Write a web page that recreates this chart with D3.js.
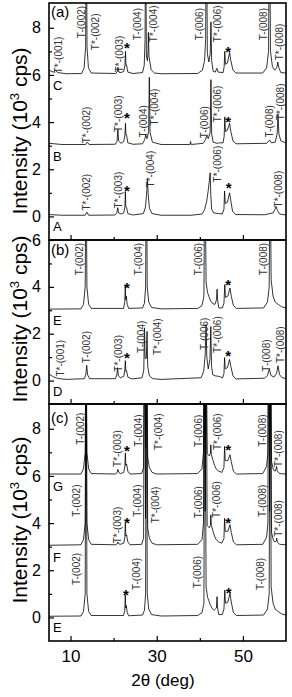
<!DOCTYPE html>
<html>
<head>
<meta charset="utf-8">
<script src="https://cdn.jsdelivr.net/npm/d3@7"></script>
<style>
body { margin: 0; background: #fff; }
svg text { font-family: "Liberation Sans", Arial, sans-serif; }
</style>
</head>
<body>
<div id="chart"></div>
<script>
// XRD patterns: [2theta (deg), intensity (10^3 cps)], offsets included
var curveA = [[5,0.08],[8,0.05],[13.4,0.05],[13.8,0.18],[14.2,0.05],[20.3,0.06],[20.75,0.15],[20.95,0.37],[21.15,0.15],[21.7,0.1],[22.35,0.15],[22.62,0.4],[22.72,1.05],[22.82,0.4],[23.0,0.38],[23.3,0.12],[24.5,0.06],[26.9,0.12],[27.4,0.4],[27.7,1.1],[27.85,1.6],[28.0,1.0],[28.3,0.35],[28.9,0.12],[31,0.05],[38,0.05],[40.5,0.1],[41.1,0.28],[41.6,0.65],[41.95,1.1],[42.2,1.5],[42.4,1.85],[42.55,0.9],[42.75,0.3],[43.2,0.15],[45.2,0.1],[45.6,0.3],[45.75,1.08],[45.9,0.55],[46.4,0.6],[46.9,1.0],[47.2,0.65],[47.6,0.22],[48.3,0.08],[55,0.07],[57.0,0.15],[57.45,0.3],[57.7,0.42],[58.0,0.25],[58.5,0.1],[60,0.06]];
var curveB = [[5,3.1],[8,3.05],[13.5,3.05],[13.9,3.15],[14.3,3.05],[20.4,3.06],[20.8,3.2],[20.98,3.7],[21.15,3.2],[21.7,3.1],[22.35,3.18],[22.62,3.45],[22.75,3.95],[22.86,3.45],[23.0,3.45],[23.3,3.12],[24.5,3.06],[26.7,3.08],[27.2,3.25],[27.45,3.45],[27.75,3.3],[28.12,3.6],[28.28,5.9],[28.45,3.55],[29.0,3.15],[31,3.05],[37.7,3.05],[37.85,3.18],[38.0,3.05],[40.8,3.1],[41.3,3.25],[41.6,3.42],[41.95,3.3],[42.4,3.55],[42.58,5.8],[42.75,3.5],[43.1,3.15],[44.0,3.1],[44.6,3.12],[45.4,3.12],[45.65,3.4],[45.8,4.22],[45.95,3.6],[46.4,3.65],[46.9,3.95],[47.2,3.6],[47.7,3.2],[48.4,3.08],[55.5,3.1],[56.2,3.24],[56.6,3.12],[57.5,3.15],[57.95,3.5],[58.15,4.35],[58.35,3.5],[58.8,3.2],[60,3.12]];
var curveC = [[5,6.2],[6.0,6.12],[6.5,6.2],[7.0,6.1],[9,6.05],[12.6,6.06],[13.15,6.3],[13.5,7.2],[13.63,12],[13.69,12],[13.82,7.2],[14.15,6.3],[14.8,6.08],[20.4,6.06],[20.8,6.12],[21.0,6.33],[21.2,6.12],[21.7,6.1],[22.35,6.15],[22.62,6.4],[22.75,7.0],[22.86,6.4],[23.0,6.42],[23.3,6.12],[24.5,6.06],[26.7,6.1],[27.1,6.4],[27.3,7.5],[27.39,12],[27.45,12],[27.6,6.8],[27.85,6.6],[27.98,7.0],[28.06,7.8],[28.2,6.8],[28.7,6.22],[29.5,6.08],[31,6.05],[39.5,6.06],[40.6,6.2],[41.1,6.6],[41.35,7.5],[41.49,12],[41.57,12],[41.75,6.9],[42.1,6.55],[42.42,6.9],[42.58,8.25],[42.75,6.6],[43.1,6.15],[43.6,6.12],[43.95,6.28],[44.25,6.12],[45.4,6.1],[45.65,6.35],[45.8,7.0],[45.95,6.45],[46.4,6.5],[46.9,6.95],[47.2,6.6],[47.7,6.2],[48.4,6.08],[54.6,6.08],[55.5,6.3],[55.95,7],[56.13,12],[56.21,12],[56.4,7],[56.85,6.35],[57.4,6.2],[57.85,6.3],[58.1,6.55],[58.35,6.3],[58.8,6.1],[60,6.08]];
var curveD = [[5,0.28],[6,0.16],[7,0.09],[9,0.05],[13.2,0.08],[13.55,0.25],[13.75,0.65],[13.95,0.25],[14.4,0.08],[20.4,0.08],[20.75,0.25],[20.92,0.55],[21.1,0.2],[21.6,0.12],[22.35,0.18],[22.6,0.45],[22.72,0.85],[22.84,0.4],[23.0,0.42],[23.3,0.15],[24.2,0.07],[26.6,0.12],[27.0,0.45],[27.15,2.25],[27.3,0.95],[27.6,0.95],[27.75,2.1],[27.9,0.6],[28.3,0.2],[29.1,0.08],[31,0.05],[40.3,0.12],[40.9,0.4],[41.25,1.1],[41.45,2.4],[41.62,1.0],[41.95,0.5],[42.35,0.9],[42.55,2.3],[42.72,0.6],[43.0,0.25],[43.6,0.2],[44.4,0.18],[45.3,0.12],[45.6,0.3],[45.75,0.98],[45.9,0.5],[46.4,0.55],[46.9,0.9],[47.2,0.6],[47.7,0.2],[48.4,0.07],[55.0,0.1],[55.7,0.22],[56.15,0.49],[56.5,0.22],[57.2,0.15],[57.8,0.3],[58.15,0.63],[58.5,0.25],[59.1,0.12],[60,0.08]];
var curveEb = [[5,3.05],[12.4,3.06],[13.0,3.25],[13.4,4.0],[13.57,9],[13.63,9],[13.8,4.0],[14.2,3.25],[14.8,3.08],[22.3,3.08],[22.58,3.35],[22.7,4.05],[22.82,3.45],[22.95,3.6],[23.15,3.25],[23.5,3.08],[26.7,3.1],[27.15,3.3],[27.42,4.0],[27.57,9],[27.63,9],[27.8,4.0],[28.15,3.35],[28.8,3.12],[31,3.06],[39.5,3.08],[40.5,3.2],[40.95,3.6],[41.13,9],[41.21,9],[41.45,4.2],[41.8,3.75],[42.1,3.6],[42.5,3.4],[42.9,3.3],[43.5,3.25],[43.88,3.45],[44.0,3.9],[44.12,3.45],[44.4,3.1],[45.2,3.1],[45.6,3.3],[45.8,4.1],[45.95,3.55],[46.5,3.6],[47.0,3.95],[47.3,3.6],[47.8,3.2],[48.5,3.08],[54.8,3.1],[55.7,3.35],[56.1,4.0],[56.27,9],[56.35,9],[56.55,4.3],[57.0,3.6],[57.5,3.35],[58.2,3.25],[59,3.15],[60,3.1]];
var curveEc = [[5,0.05],[12.4,0.06],[13.0,0.25],[13.4,1.0],[13.57,12],[13.63,12],[13.8,1.0],[14.2,0.25],[14.8,0.08],[22.3,0.08],[22.58,0.3],[22.7,0.95],[22.82,0.4],[22.95,0.5],[23.15,0.2],[23.5,0.07],[26.7,0.1],[27.15,0.3],[27.42,1.0],[27.57,12],[27.63,12],[27.8,1.0],[28.15,0.35],[28.8,0.12],[31,0.06],[39.5,0.08],[40.5,0.2],[40.95,0.6],[41.13,12],[41.21,12],[41.45,1.3],[41.8,0.85],[42.05,0.73],[42.4,0.55],[42.8,0.4],[43.3,0.3],[43.85,0.4],[44.0,0.88],[44.12,0.4],[44.4,0.12],[45.2,0.12],[45.6,0.35],[45.8,1.16],[45.95,0.6],[46.5,0.65],[47.0,1.03],[47.3,0.65],[47.8,0.2],[48.5,0.08],[54.8,0.1],[55.7,0.35],[56.1,1.0],[56.27,12],[56.35,12],[56.55,1.3],[57.0,0.6],[57.5,0.35],[58.2,0.25],[59,0.15],[60,0.1]];
var curveF = [[5,3.06],[12.4,3.08],[13.0,3.3],[13.4,4.0],[13.57,12],[13.63,12],[13.8,4.0],[14.2,3.3],[14.8,3.1],[20.5,3.08],[20.8,3.12],[20.98,3.2],[21.2,3.12],[21.6,3.1],[22.35,3.15],[22.6,3.4],[22.72,3.99],[22.84,3.45],[23.0,3.5],[23.3,3.2],[23.8,3.08],[26.5,3.1],[26.95,3.35],[27.13,12],[27.19,12],[27.42,4.2],[27.62,12],[27.68,12],[27.9,3.8],[28.3,3.35],[28.9,3.15],[30,3.08],[39.5,3.1],[40.5,3.3],[40.85,4],[40.97,12],[41.03,12],[41.25,4.5],[41.42,12],[41.48,12],[41.7,3.9],[42.2,3.8],[42.45,3.9],[42.55,4.35],[42.68,3.9],[43.0,3.7],[43.4,3.45],[43.8,3.3],[44.4,3.2],[45.1,3.15],[45.6,3.35],[45.75,4.2],[45.9,3.65],[46.5,3.65],[47.0,3.93],[47.3,3.6],[47.8,3.2],[48.5,3.08],[54.6,3.1],[55.5,3.4],[55.8,4],[55.92,12],[55.98,12],[56.2,4.5],[56.37,12],[56.43,12],[56.65,3.6],[57.1,3.25],[57.5,3.2],[57.75,3.25],[57.85,3.36],[57.98,3.2],[58.5,3.1],[60,3.08]];
var curveG = [[5,6.08],[12.4,6.08],[13.0,6.3],[13.4,7.0],[13.57,12],[13.63,12],[13.8,7.0],[14.2,6.3],[14.8,6.1],[20.5,6.08],[20.8,6.15],[20.98,6.28],[21.2,6.15],[21.6,6.1],[22.35,6.15],[22.6,6.4],[22.72,6.97],[22.84,6.45],[23.0,6.5],[23.3,6.2],[23.8,6.08],[26.5,6.1],[26.95,6.35],[27.13,12],[27.19,12],[27.42,7.2],[27.62,12],[27.68,12],[27.9,6.8],[28.3,6.35],[28.9,6.15],[30,6.08],[39.5,6.1],[40.5,6.3],[40.85,7],[40.97,12],[41.03,12],[41.25,7.5],[41.42,12],[41.48,12],[41.7,6.95],[42.2,6.85],[42.45,6.95],[42.55,7.32],[42.68,6.9],[43.0,6.7],[43.4,6.45],[43.8,6.3],[44.4,6.2],[45.1,6.15],[45.6,6.35],[45.75,7.25],[45.9,6.65],[46.5,6.65],[47.0,6.9],[47.3,6.6],[47.8,6.2],[48.5,6.08],[54.6,6.1],[55.5,6.4],[55.8,7],[55.92,12],[55.98,12],[56.2,7.5],[56.37,12],[56.43,12],[56.65,6.6],[57.1,6.25],[57.5,6.2],[57.7,6.3],[57.82,6.4],[57.95,6.22],[58.5,6.1],[60,6.08]];

// peak labels: [text, 2theta, intensity at label foot (or centre for *)]
var labelsA = [
  ['T*-(001)',7.1,6.07],['T-(002)',12.45,7.56],['T*-(002)',15.7,7.05],['T*-(003)',21.35,6.11],['*',23.07,7.26],
  ['T-(004)',25.6,7.47],['T*-(004)',29.2,7.39],['T-(006)',39.95,7.47],['T*-(006)',44.0,7.39],['*',46.56,7.09],
  ['T-(008)',54.84,7.47],['T*-(008)',58.56,6.62],
  ['T*-(002)',13.6,3.1],['T*-(003)',21.1,3.58],['*',23.07,4.29],['T-(004)',26.86,3.35],['T*-(004)',29.4,3.86],
  ['T-(006)',41.16,3.31],['T*-(006)',44.0,3.99],['*',46.56,4.11],['T-(008)',56.23,3.35],['T*-(008)',58.7,4.08],
  ['T*-(002)',13.6,0.25],['T*-(003)',21.1,0.34],['*',23.07,1.19],['T*-(004)',28.5,1.23],['T*-(006)',44.0,1.44],
  ['*',46.7,1.32],['T*-(008)',58.2,0.38]
];
var labelsB = [
  ['T-(002)',12.0,4.5],['*',23.07,4.07],['T-(004)',25.77,4.5],['T-(006)',39.58,4.5],['*',46.56,4.21],['T-(008)',54.84,4.5],
  ['T*-(001)',7.72,0.17],['T-(002)',13.6,0.74],['T*-(003)',21.1,0.38],['*',23.07,1.09],['T-(004)',26.4,1.18],
  ['T*-(004)',30.1,1.09],['T-(006)',41.05,1.31],['T*-(006)',44.07,1.18],['*',46.56,1.18],['T-(008)',55.47,0.38],
  ['T*-(008)',58.72,0.75]
];
var labelsC = [
  ['T-(002)',12.2,7.32],['T*-(003)',20.9,6.38],['*',23.07,7.18],['T-(004)',25.77,7.24],['T*-(004)',30.4,7.1],
  ['T-(006)',39.72,7.23],['T*-(006)',44.0,7.1],['*',46.56,7.24],['T-(008)',54.47,7.24],['T*-(008)',58.33,6.38],
  ['T-(002)',11.28,4.27],['T*-(003)',20.9,3.14],['*',23.07,4.13],['T-(004)',25.63,4.27],['T*-(004)',29.65,3.99],
  ['T-(006)',39.72,4.2],['T*-(006)',43.84,4.22],['*',46.56,4.13],['T-(008)',54.47,4.26],['T*-(008)',58.33,3.42],
  ['T-(002)',11.28,1.37],['*',22.84,1.09],['T-(004)',25.4,1.16],['T-(006)',39.35,1.24],['*',46.7,1.16],['T-(008)',54.07,1.16]
];

// sample letters and their baseline level
var lettersA = [['A',0],['B',3],['C',6]];
var lettersB = [['D',0],['E',3]];
var lettersC = [['E',0],['F',3],['G',6]];

var xTicks = [10, 30, 50];
var xMinor = [20, 40];

var panels = [
  {name:'(a)', top:3, bottom:240, domain:[-1,9.05], majors:[0,2,4,6,8], minors:[1,3,5,7], curves:[curveA,curveB,curveC], labels:labelsA, letters:lettersA, titleY:131, nameDy:14},
  {name:'(b)', top:240, bottom:404, domain:[-1,6], majors:[0,2,4,6], minors:[1,3,5], curves:[curveD,curveEb], labels:labelsB, letters:lettersB, titleY:319, nameDy:15},
  {name:'(c)', top:404, bottom:641, domain:[-1,9.05], majors:[0,2,4,6,8], minors:[1,3,5,7], curves:[curveEc,curveF,curveG], labels:labelsC, letters:lettersC, titleY:520, nameDy:19}
];

var left = 49, right = 286;
var svg = d3.select('#chart').append('svg')
    .attr('width', 292)
    .attr('height', 697);

var x = d3.scaleLinear().domain([5, 60]).range([left, right]);

panels.forEach(function(p, i) {
    var y = d3.scaleLinear().domain(p.domain).range([p.bottom, p.top]);
    var g = svg.append('g');

    svg.append('clipPath').attr('id', 'clip' + i)
      .append('rect')
        .attr('x', left).attr('y', p.top)
        .attr('width', right - left).attr('height', p.bottom - p.top);

    var line = d3.line().x(function(d) { return x(d[0]); }).y(function(d) { return y(d[1]); });

    var plot = g.append('g').attr('clip-path', 'url(#clip' + i + ')');
    p.curves.forEach(function(c) {
        plot.append('path').datum(c)
            .attr('d', line)
            .attr('fill', 'none')
            .attr('stroke', '#000')
            .attr('stroke-width', 0.8)
            .attr('stroke-linejoin', 'round');
    });

    // peak labels
    p.labels.forEach(function(l) {
        if (l[0] === '*') {
            plot.append('text')
                .attr('x', x(l[1]))
                .attr('y', y(l[2]) + 8)
                .attr('text-anchor', 'middle')
                .attr('font-size', 15)
                .attr('font-weight', 'bold')
                .attr('fill', '#000')
                .text('*');
        } else {
            plot.append('text')
                .attr('transform', 'translate(' + x(l[1]) + ',' + y(l[2]) + ') rotate(-90)')
                .attr('dy', '0.35em')
                .attr('font-size', 10)
                .attr('fill', '#333')
                .text(l[0]);
        }
    });

    // sample letters
    p.letters.forEach(function(l) {
        g.append('text')
            .attr('x', left + 4)
            .attr('y', y(l[1]) + 15)
            .attr('font-size', 13)
            .text(l[0]);
    });

    g.append('text')
        .attr('x', left + 2)
        .attr('y', p.top + p.nameDy)
        .attr('font-size', 15)
        .text(p.name);

    // y axis, ticks pointing in
    var yAxis = g.append('g').attr('transform', 'translate(' + left + ',0)')
        .call(d3.axisLeft(y).tickValues(p.majors).tickSize(-5).tickPadding(8).tickFormat(d3.format('d')));
    yAxis.select('.domain').remove();
    yAxis.selectAll('text').attr('font-size', 16).attr('font-family', '"Liberation Sans", Arial, sans-serif');
    yAxis.selectAll('line').attr('stroke-width', 1.2);

    var yMin = g.append('g').attr('transform', 'translate(' + left + ',0)')
        .call(d3.axisLeft(y).tickValues(p.minors).tickSize(-3).tickFormat(''));
    yMin.select('.domain').remove();
    yMin.selectAll('line').attr('stroke-width', 1.2);

    // x ticks at bottom of each panel
    var xAxis = g.append('g').attr('transform', 'translate(0,' + p.bottom + ')')
        .call(d3.axisBottom(x).tickValues(xTicks).tickSize(-5).tickPadding(9)
              .tickFormat(i === 2 ? d3.format('d') : ''));
    xAxis.select('.domain').remove();
    xAxis.selectAll('text').attr('font-size', 17).attr('font-family', '"Liberation Sans", Arial, sans-serif');
    xAxis.selectAll('line').attr('stroke-width', 1.2);

    var xMin = g.append('g').attr('transform', 'translate(0,' + p.bottom + ')')
        .call(d3.axisBottom(x).tickValues(xMinor).tickSize(-3).tickFormat(''));
    xMin.select('.domain').remove();
    xMin.selectAll('line').attr('stroke-width', 1.2);

    // frame
    g.append('rect')
        .attr('x', left).attr('y', p.top)
        .attr('width', right - left).attr('height', p.bottom - p.top)
        .attr('fill', 'none')
        .attr('stroke', '#000')
        .attr('stroke-width', 1.6);

    // y title
    var t = g.append('text')
        .attr('transform', 'translate(27,' + p.titleY + ') rotate(-90)')
        .attr('text-anchor', 'middle')
        .attr('font-size', 21);
    t.append('tspan').text('Intensity (10');
    t.append('tspan').attr('font-size', 13).attr('dy', -8).text('3');
    t.append('tspan').attr('dy', 8).text(' cps)');
});

svg.append('text')
    .attr('x', 163)
    .attr('y', 686)
    .attr('text-anchor', 'middle')
    .attr('font-size', 17)
    .text('2\u03b8 (deg)');
</script>
</body>
</html>
